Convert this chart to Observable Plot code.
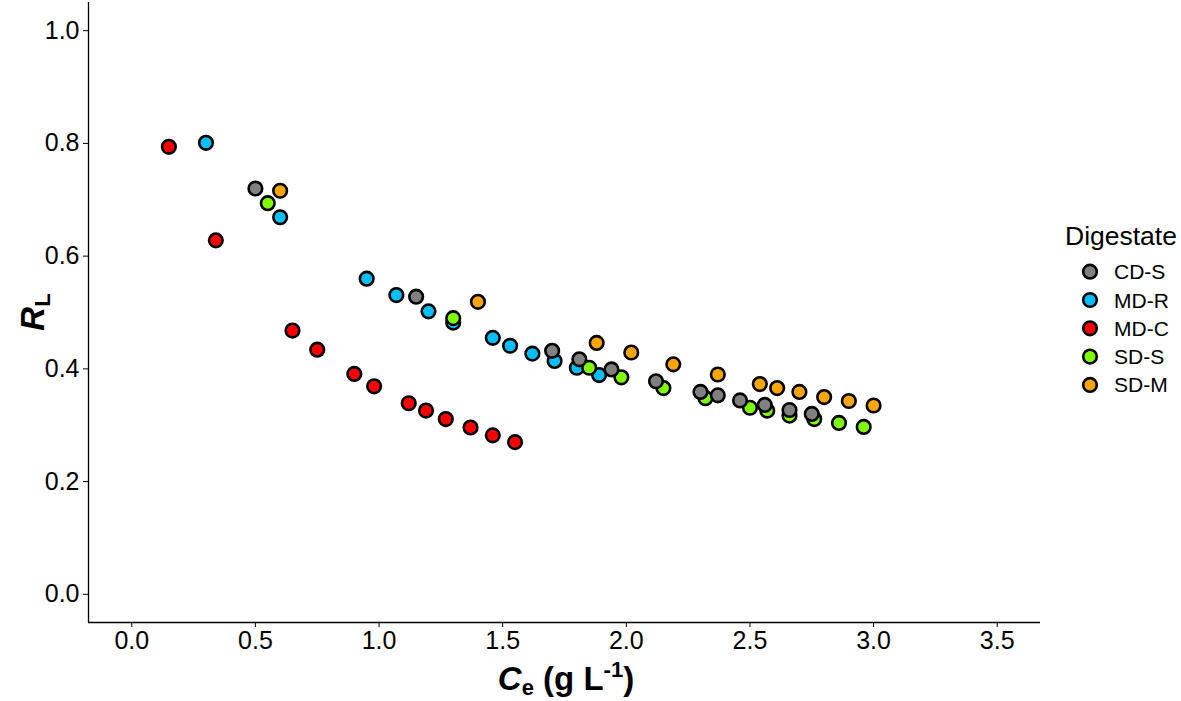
<!DOCTYPE html>
<html>
<head>
<meta charset="utf-8">
<script src="https://cdn.jsdelivr.net/npm/d3@7"></script>
<script src="https://cdn.jsdelivr.net/npm/@observablehq/plot@0.6"></script>
<style>
  html, body { margin: 0; padding: 0; background: #fff; }
  #chart { width: 1181px; height: 701px; }
  svg { font-family: "Liberation Sans", Arial, sans-serif; }
</style>
</head>
<body>
<div id="chart"></div>
<script>
// Digestate groups and fill colours
const groups = ["CD-S", "MD-R", "MD-C", "SD-S", "SD-M"];
const groupColors = ["#808080", "#00BFFF", "#FF0000", "#7FFF00", "#FFA500"];

// Equilibrium concentration Ce (g/L) and separation factor RL per digestate
const cdsCe = [0.50, 1.15, 1.70, 1.81, 1.94, 2.12, 2.30, 2.37, 2.46, 2.56, 2.66, 2.75];
const cdsRL = [0.720, 0.528, 0.432, 0.417, 0.399, 0.378, 0.359, 0.353, 0.344, 0.336, 0.327, 0.320];

const mdrCe = [0.30, 0.60, 0.95, 1.07, 1.20, 1.30, 1.46, 1.53, 1.62, 1.71, 1.80, 1.89];
const mdrRL = [0.801, 0.669, 0.560, 0.531, 0.502, 0.482, 0.455, 0.441, 0.427, 0.414, 0.402, 0.389];

const mdcCe = [0.15, 0.34, 0.65, 0.75, 0.90, 0.98, 1.12, 1.19, 1.27, 1.37, 1.46, 1.55];
const mdcRL = [0.794, 0.628, 0.468, 0.434, 0.391, 0.369, 0.339, 0.326, 0.311, 0.296, 0.282, 0.270];

const sdsCe = [0.55, 1.30, 1.85, 1.98, 2.15, 2.32, 2.50, 2.57, 2.66, 2.76, 2.86, 2.96];
const sdsRL = [0.694, 0.490, 0.402, 0.385, 0.366, 0.348, 0.331, 0.326, 0.317, 0.311, 0.304, 0.297];

const sdmCe = [0.60, 1.40, 1.88, 2.02, 2.19, 2.37, 2.54, 2.61, 2.70, 2.80, 2.90, 3.00];
const sdmRL = [0.716, 0.519, 0.446, 0.429, 0.408, 0.390, 0.373, 0.366, 0.359, 0.350, 0.343, 0.335];

// Axis ticks
const xTicks = [0, 0.5, 1.0, 1.5, 2.0, 2.5, 3.0, 3.5];
const yTicks = [0, 0.2, 0.4, 0.6, 0.8, 1.0];

// Long table, in drawing order (later series sit on top)
const series = [
  ["MD-R", mdrCe, mdrRL],
  ["MD-C", mdcCe, mdcRL],
  ["SD-S", sdsCe, sdsRL],
  ["SD-M", sdmCe, sdmRL],
  ["CD-S", cdsCe, cdsRL]
];
const data = series.flatMap(([g, xs, ys]) => xs.map((x, i) => ({group: g, ce: x, rl: ys[i]})));

const xDomain = [-0.175, 3.675];
const yDomain = [-0.05, 1.05];
const fmt = d3.format(".1f");

const plot = Plot.plot({
  width: 1181,
  height: 701,
  marginLeft: 88,
  marginRight: 141,
  marginTop: 2,
  marginBottom: 79,
  style: {fontFamily: "Liberation Sans, Arial, sans-serif", background: "#fff"},
  x: {domain: xDomain},
  y: {domain: yDomain},
  color: {domain: groups, range: groupColors},
  marks: [
    Plot.axisX({ticks: xTicks, tickFormat: fmt, tickSize: 5, tickPadding: 4, fontSize: 25, label: null, stroke: "#000", fill: "#000"}),
    Plot.axisY({ticks: yTicks, tickFormat: fmt, tickSize: 5, tickPadding: 4, fontSize: 25, label: null, stroke: "#000", fill: "#000"}),
    Plot.ruleX([xDomain[0]], {stroke: "#000", strokeWidth: 1.3}),
    Plot.ruleY([yDomain[0]], {stroke: "#000", strokeWidth: 1.3}),
    Plot.dot(data, {x: "ce", y: "rl", fill: "group", stroke: "#000", strokeWidth: 2.6, r: 6.8})
  ]
});

document.getElementById("chart").appendChild(plot);

const svg = d3.select(plot);

// x-axis title: Ce (g L^-1)
const xt = svg.append("text")
  .attr("x", 566).attr("y", 690)
  .attr("text-anchor", "middle")
  .attr("font-size", 33).attr("font-weight", "bold").attr("fill", "#000");
xt.append("tspan").attr("font-style", "italic").text("C");
xt.append("tspan").attr("font-size", 22).attr("dy", 5).text("e");
xt.append("tspan").attr("dy", -5).text(" (g L");
xt.append("tspan").attr("font-size", 22).attr("dy", -13).text("-1");
xt.append("tspan").attr("dy", 13).text(")");

// y-axis title: RL
const yt = svg.append("text")
  .attr("transform", "translate(44,312) rotate(-90)")
  .attr("text-anchor", "middle")
  .attr("font-size", 33).attr("font-weight", "bold").attr("fill", "#000");
yt.append("tspan").attr("font-style", "italic").text("R");
yt.append("tspan").attr("font-size", 22).attr("dy", 6).text("L");

// Legend
const color = plot.scale("color");
const lg = svg.append("g").attr("text-anchor", "start");
lg.append("text").attr("x", 1065).attr("y", 245)
  .attr("font-size", 26.5).attr("fill", "#000").text("Digestate");
groups.forEach((g, i) => {
  const cy = 271.7 + i * 28.3;
  lg.append("circle").attr("cx", 1090).attr("cy", cy).attr("r", 6.8)
    .attr("fill", color.apply(g)).attr("stroke", "#000").attr("stroke-width", 2.6);
  lg.append("text").attr("x", 1114).attr("y", cy + 7.5)
    .attr("font-size", 21).attr("fill", "#000").text(g);
});
</script>
</body>
</html>
